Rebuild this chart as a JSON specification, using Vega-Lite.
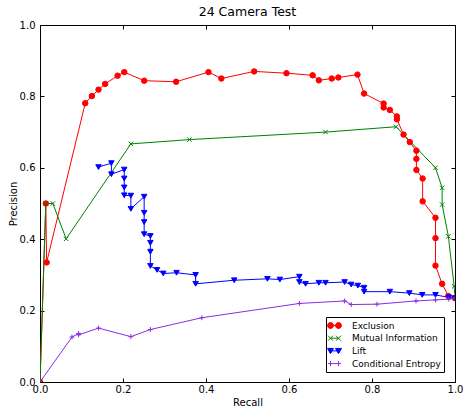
{
  "$schema": "https://vega.github.io/schema/vega-lite/v6.json",
  "width": 415,
  "height": 357,
  "autosize": {"type": "none"},
  "padding": {"left": 40, "top": 25, "right": 10, "bottom": 26},
  "background": "white",
  "title": {"text": "24 Camera Test", "fontSize": 12.5, "fontWeight": "normal", "font": "DejaVu Sans", "color": "black", "offset": 2, "frame": "group", "anchor": "middle"},
  "config": {
    "view": {"stroke": "black", "strokeWidth": 1},
    "font": "DejaVu Sans",
    "axis": {"domain": false, "grid": false, "tickColor": "black", "tickWidth": 1, "labelColor": "black", "titleColor": "black", "labelFont": "DejaVu Sans", "titleFont": "DejaVu Sans", "labelFontSize": 10, "titleFontSize": 10, "titleFontWeight": "normal", "labelFlush": false, "labelOverlap": false}
  },
  "data": {"values": [
    {"series": "Exclusion", "i": 0, "recall": 0.0, "precision": 0.0},
    {"series": "Exclusion", "i": 1, "recall": 0.014, "precision": 0.5},
    {"series": "Exclusion", "i": 2, "recall": 0.016, "precision": 0.335},
    {"series": "Exclusion", "i": 3, "recall": 0.109, "precision": 0.781},
    {"series": "Exclusion", "i": 4, "recall": 0.125, "precision": 0.801},
    {"series": "Exclusion", "i": 5, "recall": 0.141, "precision": 0.819},
    {"series": "Exclusion", "i": 6, "recall": 0.157, "precision": 0.835},
    {"series": "Exclusion", "i": 7, "recall": 0.187, "precision": 0.858},
    {"series": "Exclusion", "i": 8, "recall": 0.203, "precision": 0.868},
    {"series": "Exclusion", "i": 9, "recall": 0.251, "precision": 0.844},
    {"series": "Exclusion", "i": 10, "recall": 0.328, "precision": 0.841},
    {"series": "Exclusion", "i": 11, "recall": 0.406, "precision": 0.868},
    {"series": "Exclusion", "i": 12, "recall": 0.437, "precision": 0.85},
    {"series": "Exclusion", "i": 13, "recall": 0.516, "precision": 0.87},
    {"series": "Exclusion", "i": 14, "recall": 0.594, "precision": 0.865},
    {"series": "Exclusion", "i": 15, "recall": 0.657, "precision": 0.859},
    {"series": "Exclusion", "i": 16, "recall": 0.672, "precision": 0.845},
    {"series": "Exclusion", "i": 17, "recall": 0.703, "precision": 0.85},
    {"series": "Exclusion", "i": 18, "recall": 0.719, "precision": 0.853},
    {"series": "Exclusion", "i": 19, "recall": 0.765, "precision": 0.861},
    {"series": "Exclusion", "i": 20, "recall": 0.781, "precision": 0.808},
    {"series": "Exclusion", "i": 21, "recall": 0.828, "precision": 0.78},
    {"series": "Exclusion", "i": 22, "recall": 0.828, "precision": 0.769},
    {"series": "Exclusion", "i": 23, "recall": 0.843, "precision": 0.762},
    {"series": "Exclusion", "i": 24, "recall": 0.86, "precision": 0.744},
    {"series": "Exclusion", "i": 25, "recall": 0.86, "precision": 0.736},
    {"series": "Exclusion", "i": 26, "recall": 0.876, "precision": 0.693},
    {"series": "Exclusion", "i": 27, "recall": 0.891, "precision": 0.672},
    {"series": "Exclusion", "i": 28, "recall": 0.907, "precision": 0.648},
    {"series": "Exclusion", "i": 29, "recall": 0.907, "precision": 0.625},
    {"series": "Exclusion", "i": 30, "recall": 0.907, "precision": 0.594},
    {"series": "Exclusion", "i": 31, "recall": 0.922, "precision": 0.57},
    {"series": "Exclusion", "i": 32, "recall": 0.922, "precision": 0.506},
    {"series": "Exclusion", "i": 33, "recall": 0.953, "precision": 0.46},
    {"series": "Exclusion", "i": 34, "recall": 0.953, "precision": 0.403},
    {"series": "Exclusion", "i": 35, "recall": 0.953, "precision": 0.326},
    {"series": "Exclusion", "i": 36, "recall": 0.969, "precision": 0.275},
    {"series": "Exclusion", "i": 37, "recall": 0.984, "precision": 0.241},
    {"series": "Exclusion", "i": 38, "recall": 1.0, "precision": 0.235},
    {"series": "Mutual Information", "i": 0, "recall": 0.0, "precision": 0.0},
    {"series": "Mutual Information", "i": 1, "recall": 0.014, "precision": 0.5},
    {"series": "Mutual Information", "i": 2, "recall": 0.031, "precision": 0.5},
    {"series": "Mutual Information", "i": 3, "recall": 0.063, "precision": 0.401},
    {"series": "Mutual Information", "i": 4, "recall": 0.219, "precision": 0.667},
    {"series": "Mutual Information", "i": 5, "recall": 0.36, "precision": 0.679},
    {"series": "Mutual Information", "i": 6, "recall": 0.688, "precision": 0.7},
    {"series": "Mutual Information", "i": 7, "recall": 0.858, "precision": 0.715},
    {"series": "Mutual Information", "i": 8, "recall": 0.953, "precision": 0.6},
    {"series": "Mutual Information", "i": 9, "recall": 0.969, "precision": 0.544},
    {"series": "Mutual Information", "i": 10, "recall": 0.969, "precision": 0.497},
    {"series": "Mutual Information", "i": 11, "recall": 0.984, "precision": 0.408},
    {"series": "Mutual Information", "i": 12, "recall": 0.998, "precision": 0.268},
    {"series": "Mutual Information", "i": 13, "recall": 1.0, "precision": 0.235},
    {"series": "Lift", "i": 0, "recall": 0.141, "precision": 0.602},
    {"series": "Lift", "i": 1, "recall": 0.172, "precision": 0.613},
    {"series": "Lift", "i": 2, "recall": 0.172, "precision": 0.582},
    {"series": "Lift", "i": 3, "recall": 0.203, "precision": 0.595},
    {"series": "Lift", "i": 4, "recall": 0.203, "precision": 0.57},
    {"series": "Lift", "i": 5, "recall": 0.203, "precision": 0.545},
    {"series": "Lift", "i": 6, "recall": 0.203, "precision": 0.523},
    {"series": "Lift", "i": 7, "recall": 0.219, "precision": 0.522},
    {"series": "Lift", "i": 8, "recall": 0.219, "precision": 0.485},
    {"series": "Lift", "i": 9, "recall": 0.251, "precision": 0.519},
    {"series": "Lift", "i": 10, "recall": 0.251, "precision": 0.474},
    {"series": "Lift", "i": 11, "recall": 0.251, "precision": 0.448},
    {"series": "Lift", "i": 12, "recall": 0.251, "precision": 0.414},
    {"series": "Lift", "i": 13, "recall": 0.266, "precision": 0.409},
    {"series": "Lift", "i": 14, "recall": 0.266, "precision": 0.39},
    {"series": "Lift", "i": 15, "recall": 0.266, "precision": 0.365},
    {"series": "Lift", "i": 16, "recall": 0.266, "precision": 0.325},
    {"series": "Lift", "i": 17, "recall": 0.282, "precision": 0.314},
    {"series": "Lift", "i": 18, "recall": 0.297, "precision": 0.304},
    {"series": "Lift", "i": 19, "recall": 0.329, "precision": 0.306},
    {"series": "Lift", "i": 20, "recall": 0.375, "precision": 0.3},
    {"series": "Lift", "i": 21, "recall": 0.375, "precision": 0.275},
    {"series": "Lift", "i": 22, "recall": 0.468, "precision": 0.285},
    {"series": "Lift", "i": 23, "recall": 0.548, "precision": 0.289},
    {"series": "Lift", "i": 24, "recall": 0.578, "precision": 0.287},
    {"series": "Lift", "i": 25, "recall": 0.625, "precision": 0.295},
    {"series": "Lift", "i": 26, "recall": 0.625, "precision": 0.28},
    {"series": "Lift", "i": 27, "recall": 0.64, "precision": 0.275},
    {"series": "Lift", "i": 28, "recall": 0.672, "precision": 0.278},
    {"series": "Lift", "i": 29, "recall": 0.688, "precision": 0.278},
    {"series": "Lift", "i": 30, "recall": 0.734, "precision": 0.28},
    {"series": "Lift", "i": 31, "recall": 0.75, "precision": 0.273},
    {"series": "Lift", "i": 32, "recall": 0.766, "precision": 0.27},
    {"series": "Lift", "i": 33, "recall": 0.781, "precision": 0.264},
    {"series": "Lift", "i": 34, "recall": 0.781, "precision": 0.253},
    {"series": "Lift", "i": 35, "recall": 0.843, "precision": 0.253},
    {"series": "Lift", "i": 36, "recall": 0.89, "precision": 0.249},
    {"series": "Lift", "i": 37, "recall": 0.921, "precision": 0.244},
    {"series": "Lift", "i": 38, "recall": 0.953, "precision": 0.244},
    {"series": "Lift", "i": 39, "recall": 0.985, "precision": 0.237},
    {"series": "Lift", "i": 40, "recall": 1.0, "precision": 0.235},
    {"series": "Conditional Entropy", "i": 0, "recall": 0.0, "precision": 0.0},
    {"series": "Conditional Entropy", "i": 1, "recall": 0.077, "precision": 0.126},
    {"series": "Conditional Entropy", "i": 2, "recall": 0.093, "precision": 0.136},
    {"series": "Conditional Entropy", "i": 3, "recall": 0.093, "precision": 0.132},
    {"series": "Conditional Entropy", "i": 4, "recall": 0.141, "precision": 0.151},
    {"series": "Conditional Entropy", "i": 5, "recall": 0.219, "precision": 0.127},
    {"series": "Conditional Entropy", "i": 6, "recall": 0.266, "precision": 0.147},
    {"series": "Conditional Entropy", "i": 7, "recall": 0.39, "precision": 0.18},
    {"series": "Conditional Entropy", "i": 8, "recall": 0.625, "precision": 0.22},
    {"series": "Conditional Entropy", "i": 9, "recall": 0.734, "precision": 0.227},
    {"series": "Conditional Entropy", "i": 10, "recall": 0.75, "precision": 0.217},
    {"series": "Conditional Entropy", "i": 11, "recall": 0.812, "precision": 0.218},
    {"series": "Conditional Entropy", "i": 12, "recall": 0.906, "precision": 0.227},
    {"series": "Conditional Entropy", "i": 13, "recall": 0.953, "precision": 0.23},
    {"series": "Conditional Entropy", "i": 14, "recall": 0.985, "precision": 0.232},
    {"series": "Conditional Entropy", "i": 15, "recall": 1.0, "precision": 0.235}
  ]},
  "layer": [
    {
      "encoding": {
        "x": {"field": "recall", "type": "quantitative", "scale": {"domain": [0, 1], "nice": false, "zero": false},
              "axis": {"orient": "bottom", "values": [0, 0.2, 0.4, 0.6, 0.8, 1.0], "format": ".1f", "tickSize": -4, "labelPadding": 6, "title": "Recall", "titleX": 207.5, "titleY": 23, "titleBaseline": "alphabetic", "titleAlign": "center"}},
        "y": {"field": "precision", "type": "quantitative", "scale": {"domain": [0, 1], "nice": false, "zero": false},
              "axis": {"orient": "left", "values": [0, 0.2, 0.4, 0.6, 0.8, 1.0], "format": ".1f", "tickSize": -4, "labelPadding": 9, "title": "Precision", "titleX": -24, "titleY": 178.5, "titleAngle": -90, "titleBaseline": "alphabetic", "titleAlign": "center"}},
        "color": {"field": "series", "type": "nominal",
                  "scale": {"domain": ["Exclusion", "Mutual Information", "Lift", "Conditional Entropy"], "range": ["#ff0000", "#008000", "#0000ff", "#8a2be2"]},
                  "legend": {"orient": "none", "legendX": 286, "legendY": 292, "title": null, "fillColor": "white", "strokeColor": "black", "padding": 3, "cornerRadius": 0, "labelFontSize": 9, "labelColor": "black", "labelFont": "DejaVu Sans", "labelOffset": 12, "symbolSize": 100, "rowPadding": 1.7, "symbolStrokeWidth": 1,
                    "encode": {"symbols": {"update": {
                      "shape": {"signal": "datum.value === 'Exclusion' ? 'M-0.8,0L0.8,0M-1.4,0A0.6,0.6 0 1,0 -0.2,0A0.6,0.6 0 1,0 -1.4,0ZM0.2,0A0.6,0.6 0 1,0 1.4,0A0.6,0.6 0 1,0 0.2,0Z' : datum.value === 'Mutual Information' ? 'M-0.8,0L0.8,0M-1.3,-0.5L-0.3,0.5M-1.3,0.5L-0.3,-0.5M0.3,-0.5L1.3,0.5M0.3,0.5L1.3,-0.5' : datum.value === 'Lift' ? 'M-0.8,0L0.8,0M-1.4,-0.5L-0.2,-0.5L-0.8,0.55ZM0.2,-0.5L1.4,-0.5L0.8,0.55Z' : 'M-1.3,0L1.3,0M-0.8,-0.5L-0.8,0.5M0.8,-0.5L0.8,0.5'"},
                      "fill": {"scale": "color", "field": "value"},
                      "stroke": {"scale": "color", "field": "value"},
                      "strokeWidth": {"value": 1},
                      "opacity": {"value": 1}
                    }}}}}
      },
      "layer": [
        {"mark": {"type": "line", "strokeWidth": 1, "clip": true}, "encoding": {"order": {"field": "i", "type": "quantitative"}}},
        {"transform": [{"filter": "datum.series === 'Exclusion'"}],
         "mark": {"type": "point", "shape": "circle", "filled": true, "size": 30, "stroke": "#ff0000", "strokeWidth": 1, "opacity": 1, "clip": true}},
        {"transform": [{"filter": "datum.series === 'Mutual Information'"}],
         "mark": {"type": "point", "shape": "M-0.8,-0.8L0.8,0.8M-0.8,0.8L0.8,-0.8", "filled": true, "size": 30, "stroke": "#008000", "strokeWidth": 1, "opacity": 1, "clip": true}},
        {"transform": [{"filter": "datum.series === 'Lift'"}],
         "mark": {"type": "point", "shape": "triangle-down", "filled": true, "size": 30, "stroke": "#0000ff", "strokeWidth": 1, "opacity": 1, "clip": true}},
        {"transform": [{"filter": "datum.series === 'Conditional Entropy'"}],
         "mark": {"type": "point", "shape": "M-0.9,0L0.9,0M0,-0.9L0,0.9", "filled": true, "size": 30, "stroke": "#8a2be2", "strokeWidth": 1, "opacity": 1, "clip": true}}
      ]
    },
    {
      "mark": {"type": "point", "opacity": 0},
      "encoding": {
        "x": {"field": "recall", "type": "quantitative", "axis": {"orient": "top", "values": [0, 0.2, 0.4, 0.6, 0.8, 1.0], "labels": false, "title": null, "tickSize": -4}},
        "y": {"field": "precision", "type": "quantitative", "axis": {"orient": "right", "values": [0, 0.2, 0.4, 0.6, 0.8, 1.0], "labels": false, "title": null, "tickSize": -4}}
      }
    }
  ],
  "resolve": {"axis": {"x": "independent", "y": "independent"}}
}
